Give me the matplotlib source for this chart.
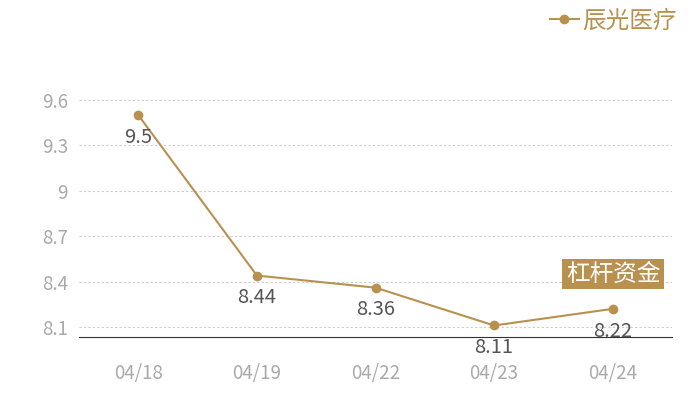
import matplotlib
matplotlib.use("Agg")
import matplotlib.pyplot as plt

plt.rcParams['font.family'] = ['Noto Sans CJK SC', 'DejaVu Sans']

dates = ["04/18", "04/19", "04/22", "04/23", "04/24"]
prices = [9.5, 8.44, 8.36, 8.11, 8.22]
price_labels = ["9.5", "8.44", "8.36", "8.11", "8.22"]
yticks = [8.1, 8.4, 8.7, 9.0, 9.3, 9.6]
ytick_labels = ["8.1", "8.4", "8.7", "9", "9.3", "9.6"]

gold = "#B8914F"

fig = plt.figure(figsize=(7, 4), dpi=100)
ax = fig.add_axes([79/700, 63/400, 593/700, 282/400])

x = range(len(dates))
ax.plot(x, prices, color=gold, lw=1.5, marker="o", ms=6, label="辰光医疗")
for xi, v, s in zip(x, prices, price_labels):
	ax.annotate(s, (xi, v), xytext=(0, -16), textcoords="offset points",
		ha="center", va="center", fontsize=14.5, color="#555555")

ax.set_xlim(-0.5, 4.5)
ax.set_ylim(8.034, 9.897)
ax.set_xticks(list(x))
ax.set_xticklabels(dates)
ax.set_yticks(yticks)
ax.set_yticklabels(ytick_labels)
ax.tick_params(length=0, colors="#aaaaaa", labelsize=13.5)
ax.tick_params(axis="x", pad=19)
ax.tick_params(axis="y", pad=8)
ax.grid(axis="y", color="#cccccc", ls=(0, (2, 2)), lw=0.8)
for side in ["top", "right", "left"]:
	ax.spines[side].set_visible(False)
ax.spines["bottom"].set_color("#333333")

leg = ax.legend(loc="upper right", bbox_to_anchor=(0.98, 1.0), bbox_transform=fig.transFigure,
	frameon=False, fontsize=17, labelcolor=gold, handlelength=1.2, handletextpad=0.15,
	borderaxespad=0)

fig.text(613/700, 1-274/400, "杠杆资金", ha="center", va="center", fontsize=17, color="white",
	bbox=dict(facecolor=gold, edgecolor="none", boxstyle="square,pad=0.14"))

fig.savefig("out.png")
